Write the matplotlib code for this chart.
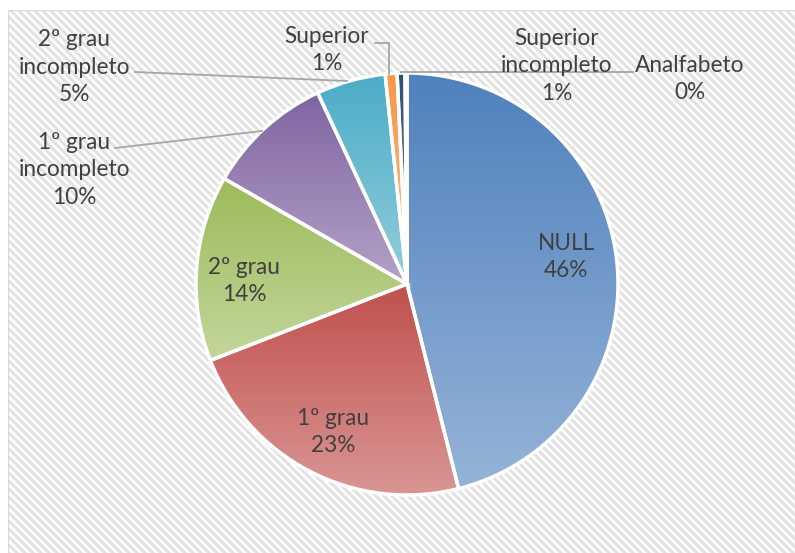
import numpy as np
import matplotlib
matplotlib.use("Agg")
import matplotlib.pyplot as plt
from matplotlib.colors import to_rgb

W, H = 795, 553
DPI = 100

# ---- data ----
categories = ["NULL", "1º grau", "2º grau", "1º grau incompleto",
              "2º grau incompleto", "Superior", "Superior incompleto", "Analfabeto"]
values = [46.0, 23.0, 14.2, 9.7, 5.3, 0.9, 0.6, 0.15]
pct_labels = ["46%", "23%", "14%", "10%", "5%", "1%", "1%", "0%"]
label_text = ["NULL", "1º grau", "2º grau", "1º grau\nincompleto",
              "2º grau\nincompleto", "Superior", "Superior\nincompleto", "Analfabeto"]
colors = ["#4F81BD", "#C0504D", "#9BBB59", "#8064A2",
          "#4BACC6", "#F79646", "#2C4D75", "#772C2A"]

plt.rcParams['font.family'] = ['Lato', 'DejaVu Sans']

fig = plt.figure(figsize=(W / DPI, H / DPI), dpi=DPI)

# background with diagonal stripes inside a border
yy, xx = np.mgrid[0:H, 0:W]
v = 255 - 32 * (0.5 + 0.5 * np.cos(2 * np.pi * (xx - yy) / 8.0))
bg = np.ones((H, W, 3))
inside = (xx >= 9) & (yy >= 11)
bg[inside] = (v[inside] / 255.0)[:, None]
border_col = np.array(to_rgb("#d9d9d9"))
bg[10:, 8] = border_col
bg[10, 8:] = border_col
fig.figimage(bg, xo=0, yo=0, origin='upper', zorder=-5)

ax = fig.add_axes([0, 0, 1, 1])
ax.set_zorder(2)
ax.patch.set_alpha(0)

def Y(y_down):
    return H - y_down

cx, cy, R = 407, Y(284), 211
wedges, _ = ax.pie(values, colors=colors, startangle=90, counterclock=False,
                   center=(cx, cy), radius=R,
                   wedgeprops=dict(edgecolor="white", linewidth=2.5))

for w, c in zip(wedges, colors):
    base = np.array(to_rgb(c))
    tint = base + 0.4 * (1 - base)
    ext = w.get_path().get_extents()
    n = 256
    t = np.linspace(0, 1, n)[:, None]
    grad = (base[None, :] * (1 - t) + tint[None, :] * t)[:, None, :]
    im = ax.imshow(grad, extent=[ext.x0, ext.x1, ext.y0, ext.y1], origin='upper',
                   aspect='auto', interpolation='bilinear', zorder=1)
    im.set_clip_path(w)
    w.set_facecolor("none")
    w.set_zorder(2)

txt_col = "#404040"
fs = 16.3

def lbl(x, y, s):
    ax.text(x, Y(y), s, ha='center', va='center', fontsize=fs, color=txt_col,
            linespacing=1.4, zorder=5)

lbl(566, 257, label_text[0] + "\n" + pct_labels[0])
lbl(333, 432, label_text[1] + "\n" + pct_labels[1])
lbl(244, 281, label_text[2] + "\n" + pct_labels[2])
lbl(74, 170, label_text[3] + "\n" + pct_labels[3])
lbl(74, 67, label_text[4] + "\n" + pct_labels[4])
lbl(327, 50, label_text[5] + "\n" + pct_labels[5])
lbl(557, 66, label_text[6] + "\n" + pct_labels[6])
lbl(690, 79, label_text[7] + "\n" + pct_labels[7])

lc = "#a6a6a6"
lw = 1.3
ax.plot([135, 347], [Y(72), Y(81)], color=lc, lw=lw, zorder=4)
ax.plot([115, 262], [Y(148), Y(131)], color=lc, lw=lw, zorder=4)
ax.plot([375, 389, 389], [Y(43), Y(43), Y(74)], color=lc, lw=lw, zorder=4)
ax.plot([401, 633], [Y(72), Y(72)], color=lc, lw=lw, zorder=4)

ax.set_xlim(0, W)
ax.set_ylim(0, H)
ax.set_aspect('auto')
ax.axis('off')

fig.savefig("out.png", dpi=DPI)
